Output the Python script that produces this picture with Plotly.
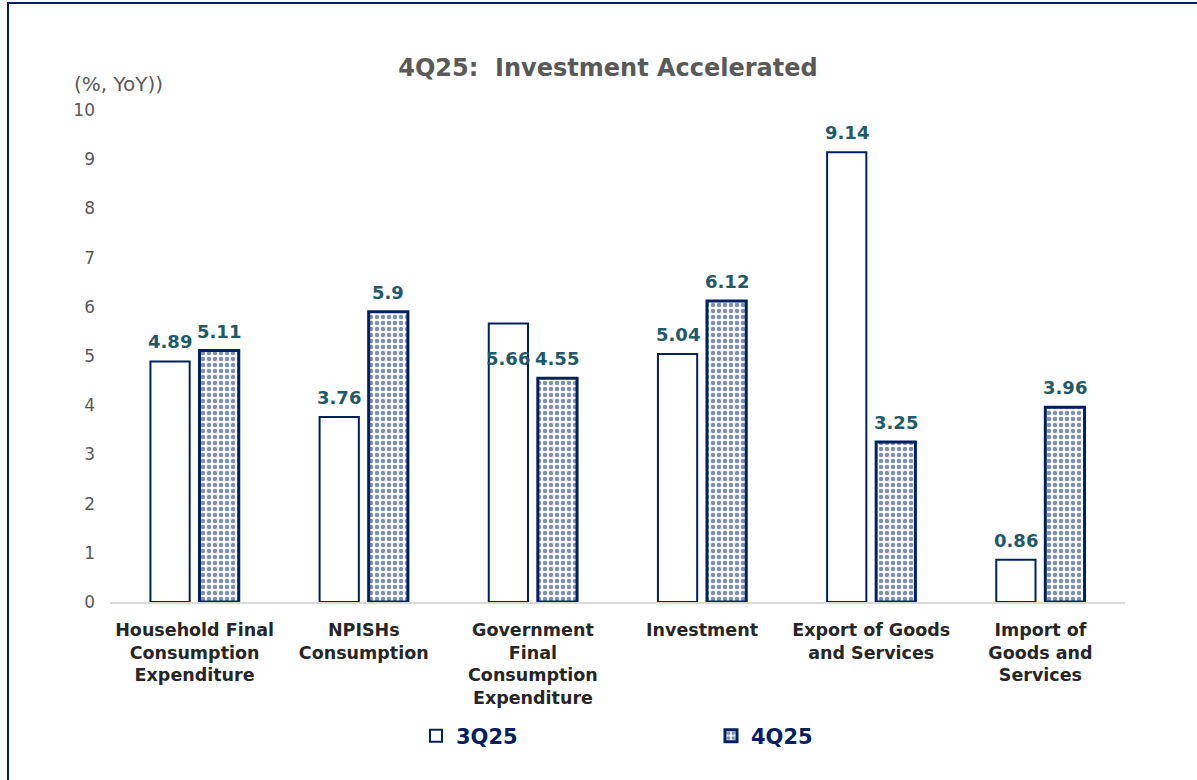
import plotly.graph_objects as go

# Expenditure components, year-on-year growth (%)
categories = [
    "Household Final<br>Consumption<br>Expenditure",
    "NPISHs<br>Consumption",
    "Government<br>Final<br>Consumption<br>Expenditure",
    "Investment",
    "Export of Goods<br>and Services",
    "Import of<br>Goods and<br>Services",
]
q3_values = [4.89, 3.76, 5.66, 5.04, 9.14, 0.86]
q4_values = [5.11, 5.90, 4.55, 6.12, 3.25, 3.96]
series_names = ["3Q25", "4Q25"]
y_ticks = [0, 1, 2, 3, 4, 5, 6, 7, 8, 9, 10]

NAVY = "#002060"
LABEL = "#215968"
GRAY = "#595959"

W, H = 1197, 780
ML, MR, MT, MB = 110, 72, 110, 178
plot_w = W - ML - MR
plot_h = H - MT - MB

fig = go.Figure()
fig.add_trace(go.Bar(
    name=series_names[0], x=categories, y=q3_values,
    marker=dict(color="white", line=dict(color=NAVY, width=2)),
    hoverinfo="y",
))
fig.add_trace(go.Bar(
    name=series_names[1], x=categories, y=q4_values,
    marker=dict(
        color="white",
        line=dict(color=NAVY, width=3),
        pattern=dict(shape=".", fgcolor=NAVY, bgcolor="white", size=6, solidity=0.45),
    ),
    hoverinfo="y",
))

# Data labels: above each bar, except one tucked under the top of its bar
bargap, groupgap = 0.42, 0.2
cat_px = plot_w / len(categories)
bar_offset_px = cat_px * (1 - bargap) / 4
inside_labels = {(0, 2)}
for s, vals in enumerate([q3_values, q4_values]):
    dx = -bar_offset_px if s == 0 else bar_offset_px
    for i, v in enumerate(vals):
        inside = (s, i) in inside_labels
        fig.add_annotation(
            x=categories[i], y=v, xref="x", yref="y",
            text=f"{v:g}", showarrow=False,
            xshift=dx,
            yanchor="top" if inside else "bottom",
            yshift=-22 if inside else 7,
            font=dict(family="DejaVu Sans", size=18, color=LABEL, weight="bold"),
        )

# Axis unit label
fig.add_annotation(
    x=(72 - ML) / plot_w, y=(H - MB - 84) / plot_h, xref="paper", yref="paper",
    xanchor="left", yanchor="middle", text="(%, YoY))", showarrow=False,
    font=dict(family="DejaVu Sans", size=20, color=GRAY),
)

# Outer frame
fig.add_shape(
    type="rect", xref="paper", yref="paper",
    x0=(8 - ML) / plot_w, x1=(W + 5 - ML) / plot_w,
    y0=(H - MB - (H + 5)) / plot_h, y1=(H - MB - 3) / plot_h,
    line=dict(color=NAVY, width=2), fillcolor="rgba(0,0,0,0)", layer="below",
)

fig.update_layout(
    width=W, height=H,
    margin=dict(l=ML, r=MR, t=MT, b=MB, autoexpand=False),
    paper_bgcolor="white", plot_bgcolor="white",
    barmode="group", bargap=bargap, bargroupgap=groupgap,
    title=dict(
        text="4Q25:  Investment Accelerated",
        x=608 / W, xanchor="center", y=1 - 68 / H, yanchor="middle",
        font=dict(family="DejaVu Sans", size=24, color=GRAY, weight="bold"),
    ),
    showlegend=True,
    legend=dict(
        orientation="h", x=(416 - ML) / plot_w, xanchor="left",
        y=(H - MB - 736) / plot_h, yanchor="middle",
        entrywidth=250, entrywidthmode="pixels", itemwidth=30,
        font=dict(family="DejaVu Sans", size=21, color=NAVY, weight="bold"),
        traceorder="normal",
    ),
    xaxis=dict(
        showgrid=False, showline=True, linecolor="#D9D9D9", linewidth=1.5,
        ticks="", ticklabelstandoff=11,
        tickfont=dict(family="DejaVu Sans", size=17.5, color="#262626", weight="bold"),
    ),
    yaxis=dict(
        range=[0, 10], tickvals=y_ticks, showgrid=False, zeroline=False,
        showline=False, ticks="", ticklabelstandoff=14,
        tickfont=dict(family="DejaVu Sans", size=17, color=GRAY),
    ),
)

fig.write_html("out.html")
